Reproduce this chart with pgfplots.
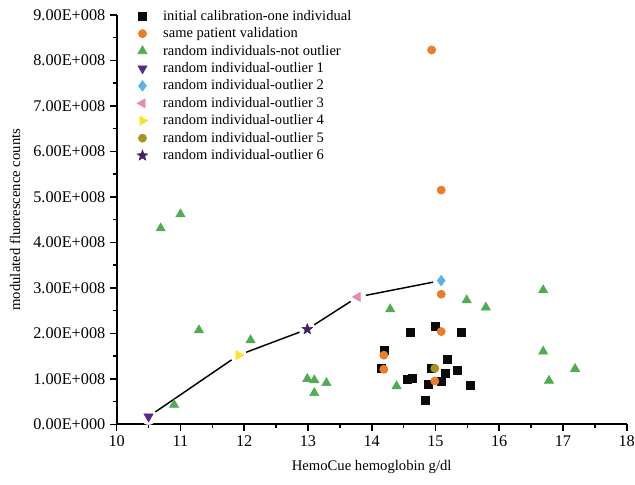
\documentclass[border=0pt]{standalone}
\usepackage{fontspec}
\setmainfont{Liberation Serif}
\usepackage{pgfplots}
\pgfplotsset{compat=1.18}
\definecolor{calblack}{RGB}{10,10,10}
\definecolor{valorange}{RGB}{236,125,40}
\definecolor{rndgreen}{RGB}{80,172,82}
\definecolor{outpurple}{RGB}{88,40,140}
\definecolor{outcyan}{RGB}{90,180,230}
\definecolor{outpink}{RGB}{228,140,170}
\definecolor{outyellow}{RGB}{250,228,40}
\definecolor{outolive}{RGB}{165,150,30}
\definecolor{outstar}{RGB}{70,30,100}

% filled five-pointed star
\pgfdeclareplotmark{fstar}{%
  \pgfpathmoveto{\pgfpointpolar{90}{\pgfplotmarksize}}%
  \pgfpathlineto{\pgfpointpolar{126}{0.42\pgfplotmarksize}}%
  \pgfpathlineto{\pgfpointpolar{162}{\pgfplotmarksize}}%
  \pgfpathlineto{\pgfpointpolar{198}{0.42\pgfplotmarksize}}%
  \pgfpathlineto{\pgfpointpolar{234}{\pgfplotmarksize}}%
  \pgfpathlineto{\pgfpointpolar{270}{0.42\pgfplotmarksize}}%
  \pgfpathlineto{\pgfpointpolar{306}{\pgfplotmarksize}}%
  \pgfpathlineto{\pgfpointpolar{342}{0.42\pgfplotmarksize}}%
  \pgfpathlineto{\pgfpointpolar{18}{\pgfplotmarksize}}%
  \pgfpathlineto{\pgfpointpolar{54}{0.42\pgfplotmarksize}}%
  \pgfpathclose
  \pgfusepathqfillstroke}

\begin{document}
\begin{tikzpicture}
\path[use as bounding box] (-87.5pt,-45.5pt) rectangle (388.7pt,318.2pt);
\begin{axis}[
    scale only axis,
    width=382.5pt,
    height=307pt,
    xmin=10, xmax=18,
    ymin=0, ymax=9e8,
    axis lines=left,
    axis line style={line width=1.4pt, -},
    xtick={10,11,...,18},
    minor x tick num=1,
    scaled y ticks=false,
    ytick={0,1e8,2e8,3e8,4e8,5e8,6e8,7e8,8e8,9e8},
    yticklabels={0.00E+000,1.00E+008,2.00E+008,3.00E+008,4.00E+008,5.00E+008,6.00E+008,7.00E+008,8.00E+008,9.00E+008},
    minor y tick num=1,
    tick align=outside,
    major tick length=5pt,
    minor tick length=3pt,
    tick style={line width=1.2pt, black},
    /pgf/number format/assume math mode=true,
    tick label style={font=\fontsize{12.2}{14}\selectfont},
    xlabel={HemoCue hemoglobin g/dl},
    ylabel={modulated fluorescence counts},
    label style={font=\fontsize{11}{13}\selectfont},
    xlabel style={yshift=-3pt},
    ylabel style={yshift=3pt},
    clip=false,
    legend style={
        at={(rel axis cs:0.037,1.022)},
        anchor=north west,
        draw=none, fill=none,
        font=\fontsize{10.9}{13}\selectfont,
        cells={anchor=west},
        row sep=0pt,
        column sep=9.5pt,
        inner sep=1pt,
    },
    legend cell align=left,
]
% connecting line through the outliers
\addplot[black, line width=1.1pt, no marks, forget plot] coordinates {
    (10.50,0.17e8) (11.91,1.52e8) (12.99,2.09e8) (13.78,2.80e8) (15.09,3.16e8)};
\addplot[only marks, mark=*, mark size=6pt, white, forget plot] coordinates {
    (10.50,0.17e8) (11.91,1.52e8) (12.99,2.09e8) (13.78,2.80e8) (15.09,3.16e8)};

\addplot[only marks, mark=square*, mark size=3pt, calblack] coordinates {
    (14.60,2.02e8) (14.99,2.15e8) (15.40,2.02e8) (14.19,1.62e8) (14.15,1.23e8)
    (15.19,1.44e8) (14.94,1.23e8) (15.15,1.12e8) (15.34,1.19e8) (14.55,1.00e8)
    (14.64,1.01e8) (14.89,0.89e8) (15.09,0.94e8) (15.54,0.86e8) (14.84,0.53e8)};
\addplot[only marks, mark=*, mark size=3.1pt, valorange] coordinates {
    (15.09,2.04e8) (14.19,1.52e8) (14.19,1.21e8) (14.99,0.95e8) (15.09,2.86e8)
    (14.94,8.23e8) (15.09,5.15e8)};
\addplot[only marks, mark=triangle*, mark size=4pt, rndgreen] coordinates {
    (10.69,4.31e8) (11.00,4.62e8) (11.29,2.07e8) (12.10,1.85e8) (10.90,0.43e8)
    (12.99,1.00e8) (13.10,0.97e8) (13.10,0.69e8) (13.29,0.91e8) (14.29,2.53e8)
    (14.39,0.84e8) (15.49,2.73e8) (15.79,2.57e8) (16.69,2.95e8) (16.69,1.60e8)
    (16.78,0.96e8) (17.19,1.22e8)};
\addplot[only marks, mark=triangle*, mark size=4pt, outpurple, mark options={rotate=180}] coordinates {
    (10.50,0.17e8)};
\addplot[only marks, mark=diamond*, mark size=4pt, outcyan] coordinates {
    (15.09,3.16e8)};
\addplot[only marks, mark=triangle*, mark size=4pt, outpink, mark options={rotate=90}] coordinates {
    (13.78,2.80e8)};
\addplot[only marks, mark=triangle*, mark size=4pt, outyellow, mark options={rotate=-90}] coordinates {
    (11.91,1.52e8)};
\addplot[only marks, mark=*, mark size=3.1pt, outolive] coordinates {
    (14.99,1.23e8)};
\addplot[only marks, mark=fstar, mark size=4.2pt, outstar] coordinates {
    (12.99,2.09e8)};
\legend{initial calibration-one individual, same patient validation,
    random individuals-not outlier, random individual-outlier 1,
    random individual-outlier 2, random individual-outlier 3,
    random individual-outlier 4, random individual-outlier 5,
    random individual-outlier 6}
\end{axis}
\end{tikzpicture}
\end{document}
